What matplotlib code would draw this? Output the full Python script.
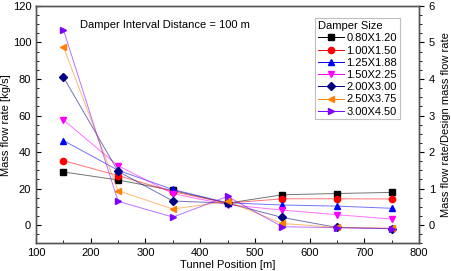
import matplotlib
matplotlib.use("Agg")
import matplotlib.pyplot as plt
from matplotlib.ticker import MultipleLocator

plt.rcParams['font.family'] = ['Liberation Sans', 'DejaVu Sans']

# tunnel positions [m]
position = [150, 250, 350, 450, 550, 650, 750]

# mass flow rate [kg/s] per damper size
sizes = ["0.80X1.20", "1.00X1.50", "1.25X1.88", "1.50X2.25",
         "2.00X3.00", "2.50X3.75", "3.00X4.50"]
flow_080 = [29.1, 24.7, 19.0, 12.0, 16.6, 17.3, 17.9]
flow_100 = [35.3, 27.1, 18.3, 12.0, 14.4, 14.4, 14.3]
flow_125 = [46.3, 30.0, 19.5, 12.2, 11.0, 10.4, 9.2]
flow_150 = [57.6, 32.5, 17.2, 11.2, 8.2, 5.7, 3.3]
flow_200 = [81.0, 29.4, 13.2, 12.0, 4.2, -1.3, -1.9]
flow_250 = [97.5, 18.8, 8.8, 13.0, 0.9, -1.3, -1.7]
flow_300 = [107.0, 13.0, 4.4, 15.7, -0.9, -1.4, -2.0]

series = [flow_080, flow_100, flow_125, flow_150, flow_200, flow_250, flow_300]
colors = ["#000000", "#ff0000", "#0000ff", "#ff00ff", "#000080", "#ff8000", "#8000ff"]
markers = ["s", "o", "^", "v", "D", "<", ">"]
msize = [4.5, 4.5, 4.5, 4.5, 4, 4.5, 4.5]

fig = plt.figure(figsize=(4.51, 2.71), dpi=100)
ax = fig.add_axes([0.08, 0.102, 0.849, 0.876])

for vals, c, m, ms in zip(series, colors, markers, msize):
    ax.plot(position, vals, color=c, lw=0.7, alpha=0.55)
    ax.plot(position, vals, linestyle='none', marker=m, color=c, markersize=ms)

# legend handles with line + marker
handles = [plt.Line2D([], [], color=c, lw=0.7, marker=m, markersize=ms)
           for c, m, ms in zip(colors, markers, msize)]
leg = ax.legend(handles, sizes, title="Damper Size", loc="upper right",
                bbox_to_anchor=(0.95, 0.948), fontsize=8, title_fontsize=8,
                frameon=True, fancybox=False, edgecolor="#b0b0b0",
                handlelength=2.3, handletextpad=0.25, labelspacing=0.2,
                borderpad=0.25, borderaxespad=0)
leg._legend_box.align = "left"
leg.get_frame().set_linewidth(0.8)

ax.set_xlim(100, 800)
ax.set_ylim(-10, 120)
ax.xaxis.set_major_locator(MultipleLocator(100))
ax.xaxis.set_minor_locator(MultipleLocator(50))
ax.yaxis.set_major_locator(MultipleLocator(20))
ax.yaxis.set_minor_locator(MultipleLocator(5))
ax.tick_params(which='both', direction='in', labelsize=8, top=False, right=False)
ax.tick_params(which='major', length=3.5)
ax.tick_params(which='minor', length=2)
ax.set_xlabel("Tunnel Position [m]", fontsize=8, labelpad=1)
ax.set_ylabel("Mass flow rate [kg/s]", fontsize=8, labelpad=1)
for s in ax.spines.values():
    s.set_color("#555555")
    s.set_linewidth(1.0)

ax.text(0.115, 0.92, "Damper Interval Distance = 100 m", transform=ax.transAxes,
        fontsize=8, va='center', ha='left')

ax2 = ax.twinx()
ax2.set_ylim(-0.5, 6)
ax2.yaxis.set_major_locator(MultipleLocator(1))
ax2.yaxis.set_minor_locator(MultipleLocator(0.25))
ax2.tick_params(which='both', direction='out', labelsize=8)
ax2.tick_params(which='major', length=3.5)
ax2.tick_params(which='minor', length=2)
ax2.set_ylabel("Mass flow rate/Design mass flow rate", fontsize=8, labelpad=4)
for s in ax2.spines.values():
    s.set_color("#555555")
    s.set_linewidth(1.0)

fig.savefig("out.png", dpi=100)
